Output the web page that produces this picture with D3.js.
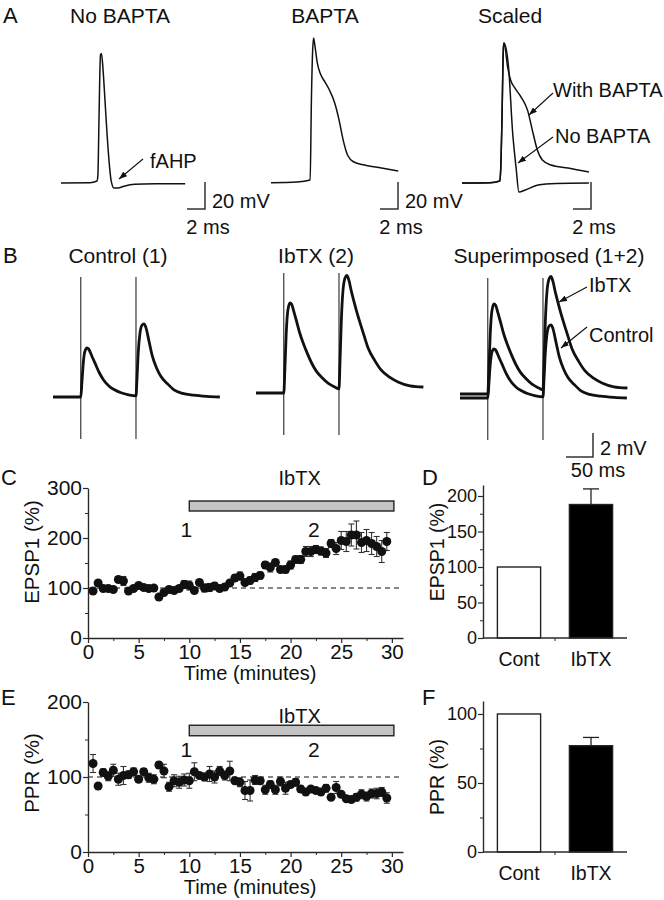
<!DOCTYPE html>
<html><head><meta charset="utf-8">
<script src="https://cdn.jsdelivr.net/npm/d3@7"></script>
<style>
body{margin:0;background:#fff}
svg{display:block}
text{font-family:"Liberation Sans",Arial,Helvetica,sans-serif;fill:#111}
</style>
</head><body>
<svg id="fig" width="664" height="900"></svg>
<script>
// ================= DATA =================
const panelLetters = ["A","B","C","D","E","F"];
const aTitles = ["No BAPTA","BAPTA","Scaled"];
const bTitles = ["Control (1)","IbTX (2)","Superimposed (1+2)"];

// Panel A action potentials: [time (ms), membrane potential relative to rest (mV)]
const apNoBapta = [[0,0],[3.2,0.2],[4.0,1.5],[4.1,6],[4.22,47],[4.39,95],[4.5,96],[4.67,84],[4.89,61],[5.11,37],[5.33,17],[5.56,2.2],[5.89,-3.7],[6.33,-3.7],[7.0,-2.4],[8.2,-1.0],[10.5,-0.6],[13.8,-0.5]];
const apBapta = [[0,-0.5],[2.9,0],[4.35,1.5],[4.49,61],[4.63,98],[4.73,106.7],[4.9,100],[5.15,88],[5.5,80],[6.0,74],[6.5,68],[7.08,58.5],[7.56,46],[8.02,31],[8.5,20],[9.2,14.8],[10.38,12.6],[12.27,10.4],[14.14,8.1]];
const apScaledNo = [[0,0],[3.1,0.2],[4.2,1.5],[4.3,10],[4.44,46.7],[4.6,100],[4.67,103.7],[5.17,85.9],[5.63,37],[6.0,11.9],[6.33,-6.7],[7.04,-5.2],[8.44,-1.5],[10.5,-0.4],[14.1,0]];
const apScaledWith = [[0,0],[3.1,0.2],[4.2,1.5],[4.3,10],[4.44,46.7],[4.6,100],[4.67,103.7],[5.07,85.9],[5.4,76.3],[5.87,70.4],[6.56,63.7],[7.28,54],[7.89,37],[8.37,24.4],[8.93,17],[9.89,13.3],[11.78,11.1],[14.1,8.1]];

// Panel B EPSPs: [time (ms), mV above baseline]
const epspControl = [[0,0],[51.5,0],[53.5,1.2],[56,2.8],[59,3.8],[63,4.1],[66,4.0],[72,3.4],[78,2.8],[86,2.0],[94,1.4],[104,0.9],[114,0.6],[126,0.35],[140,0.18],[153.7,0.1],[155.5,1.5],[158,3.8],[161,5.3],[165,6.0],[168.5,6.1],[172,5.8],[178,4.6],[184,3.4],[192,2.4],[200,1.7],[212,1.1],[224,0.6],[240,0.3],[260,0.15],[285,0.05],[309,0]];
const epspIbtx = [[0,0],[51.5,0],[53.5,2],[56,5],[59,6.9],[63,7.5],[66,7.4],[70,6.8],[75,6.0],[81,5.0],[87,4.2],[95,3.3],[103,2.5],[112,1.8],[122,1.3],[134,0.8],[146,0.5],[153.7,0.35],[155.5,2.5],[158,6.0],[161,8.5],[165,9.6],[168.5,9.8],[172,9.4],[177,8.4],[181,7.7],[187,6.7],[193,5.8],[200,4.8],[208,3.7],[220,2.7],[232,1.9],[248,1.3],[264,0.9],[285,0.6],[310,0.5]];
const stimTimes = [51.5, 153.7];
const artifactRange = [-3.5, 10];

// Panels C & E time course (minutes)
const timeMin = [0.5,1,1.5,2,2.5,3,3.5,4,4.5,5,5.5,6,6.5,7,7.5,8,8.5,9,9.5,10,10.5,11,11.5,12,12.5,13,13.5,14,14.5,15,15.5,16,16.5,17,17.5,18,18.5,19,19.5,20,20.5,21,21.5,22,22.5,23,23.5,24,24.5,25,25.5,26,26.5,27,27.5,28,28.5,29,29.5];
const epsp1Pct = [94,110,99,99,97,117,114,94,99,105,101,99,100,82,91,97,95,99,107,105,95,111,100,101,104,99,102,110,120,124,111,115,121,125,146,141,151,137,137,146,157,157,173,173,177,174,170,189,179,195,193,206,206,191,195,189,183,173,193];
const epsp1Err = [3,4,4,6,4,6,9,3,4,4,5,5,4,4,6,5,6,5,8,9,5,4,8,8,7,6,5,5,6,8,6,7,8,7,7,9,6,6,7,8,7,8,10,10,8,8,9,8,12,18,20,22,28,20,22,22,20,22,18];
const pprPct = [118,88,106,101,109,97,102,103,107,97,107,99,97,116,108,87,95,93,96,95,107,102,100,104,100,108,102,108,95,93,82,82,96,95,83,90,83,94,85,90,93,84,80,84,82,80,85,73,86,77,71,70,73,77,74,78,78,80,72];
const pprErr = [12,3,5,6,8,8,12,5,5,4,4,6,6,4,9,6,8,8,8,10,12,4,5,10,8,6,6,13,4,6,12,14,6,4,6,5,6,6,8,4,5,4,3,3,3,3,5,3,8,3,3,4,5,6,6,6,7,6,7];
const drugLabel = "IbTX";
const drugPeriod = [10, 30.2];
const epochMarks = [{label:"1", t:9.7},{label:"2", t:22.3}];
const xTicks = [0,5,10,15,20,25,30];
const xMinor = [2.5,7.5,12.5,17.5,22.5,27.5];
const cTicks = [0,100,200,300], cMinor = [50,150,250];
const eTicks = [0,100,200], eMinor = [50,150];

// Panels D & F summary
const groups = ["Cont","IbTX"];
const epsp1Mean = [100, 188];
const epsp1Sem = [0, 22];
const pprMean = [100, 77];
const pprSem = [0, 6];
const dTicks = [0,50,100,150,200], dMinor = [25,75,125,175];
const fTicks = [0,50,100], fMinor = [25,75];

// ================= DRAW =================
const svg = d3.select("#fig");
const INK = "#111", AX = "#2a2a2a";
const FONT = '"Liberation Sans",Arial,sans-serif';
const defs = svg.append("defs");
defs.append("marker").attr("id","arr").attr("viewBox","0 0 8 6")
  .attr("refX",8).attr("refY",3).attr("markerWidth",8).attr("markerHeight",6)
  .attr("markerUnits","userSpaceOnUse").attr("orient","auto")
  .append("path").attr("d","M0,0L8,3L0,6z").attr("fill",INK);

function txt(x,y,s,size,anchor){
  return svg.append("text").attr("x",x).attr("y",y).attr("font-size",size)
    .attr("text-anchor",anchor||"start").text(s);
}
function arrow(x1,y1,x2,y2){
  svg.append("line").attr("x1",x1).attr("y1",y1).attr("x2",x2).attr("y2",y2)
    .attr("stroke",INK).attr("stroke-width",1.1).attr("marker-end","url(#arr)");
}

// Panel letters
const letterPos = [[3,23],[3,263],[1,485],[422,485],[1,705],[422,705]];
panelLetters.forEach((l,i)=>txt(letterPos[i][0],letterPos[i][1],l,22));

// ---------- Panel A ----------
const aPxPerMs = 9, aPxPerMv = 1.35;
const aLayout = [{x0:61,y0:183,cx:120},{x0:271,y0:182,cx:325},{x0:462,y0:183,cx:510}];
aTitles.forEach((t,i)=>txt(aLayout[i].cx,23,t,21,"middle"));
function aScales(i){
  const L=aLayout[i];
  return {x:d3.scaleLinear().domain([0,1]).range([L.x0,L.x0+aPxPerMs]),
          y:d3.scaleLinear().domain([0,1]).range([L.y0,L.y0-aPxPerMv])};
}
function drawTrace(data,sc,w){
  const line=d3.line().x(d=>sc.x(d[0])).y(d=>sc.y(d[1])).curve(d3.curveMonotoneX);
  svg.append("path").attr("d",line(data)).attr("fill","none").attr("stroke",INK)
    .attr("stroke-width",w).attr("stroke-linejoin","round");
}
drawTrace(apNoBapta,aScales(0),1.5);
drawTrace(apBapta,aScales(1),1.5);
drawTrace(apScaledNo,aScales(2),1.5);
drawTrace(apScaledWith,aScales(2),1.5);

// A scale bars (20 mV, 2 ms)
[205,398,591].forEach((bx,i)=>{
  const by=209, h=20*aPxPerMv, w=2*aPxPerMs;
  svg.append("path").attr("d",`M${bx-w},${by}H${bx}V${by-h}`).attr("fill","none")
    .attr("stroke","#333").attr("stroke-width",1.5);
  if(i<2) txt(bx+7,208,"20 mV",20);
  txt(bx+3,234,"2 ms",20,"middle");
});
txt(150,168,"fAHP",20); arrow(143,159,119,179);
txt(553,97,"With BAPTA",20); arrow(553,93,529,115);
txt(555,143,"No BAPTA",20); arrow(553,137,518,163);

// ---------- Panel B ----------
const bPxPerMs = 0.54, bPxPerMv = 12;
const bTitleX = [118,316,549];
bTitles.forEach((t,i)=>txt(bTitleX[i],263,t,21,"middle"));
function bScales(x0,y0){
  return {x:d3.scaleLinear().domain([0,1]).range([x0,x0+bPxPerMs]),
          y:d3.scaleLinear().domain([0,1]).range([y0,y0-bPxPerMv])};
}
function artifacts(sc){
  stimTimes.forEach(t=>{
    svg.append("line").attr("x1",sc.x(t)).attr("x2",sc.x(t))
      .attr("y1",sc.y(artifactRange[0])).attr("y2",sc.y(artifactRange[1]))
      .attr("stroke",INK).attr("stroke-width",1);
  });
}
const sC=bScales(53,397), sI=bScales(256,393), sSC=bScales(460,398), sSI=bScales(460,394);
drawTrace(epspControl,sC,2.8); artifacts(sC);
drawTrace(epspIbtx,sI,2.8); artifacts(sI);
drawTrace(epspControl,sSC,2.8); drawTrace(epspIbtx,sSI,2.8); artifacts(sSC);
txt(589,292,"IbTX",20); arrow(587,287,559,302);
txt(589,342,"Control",20); arrow(587,327,561,348);
{ const bx=593, by=457, h=2*bPxPerMv, w=50*bPxPerMs;
  svg.append("path").attr("d",`M${bx-w},${by}H${bx}V${by-h}`).attr("fill","none")
    .attr("stroke","#333").attr("stroke-width",1.5);
  txt(600,455,"2 mV",20); txt(598,477,"50 ms",20,"middle"); }

// ---------- Panels C & E ----------
function styleAxis(g,fs){
  g.select(".domain").attr("stroke",AX).attr("stroke-width",1.4);
  g.selectAll(".tick line").attr("stroke",AX).attr("stroke-width",1.2);
  g.selectAll("text").attr("font-size",fs).attr("fill",INK).attr("font-family",FONT);
}
function timePlot(opt){
  const x=d3.scaleLinear().domain([0,31.1]).range([88,403]);
  const y=d3.scaleLinear().domain(opt.yDomain).range(opt.yRange);
  svg.append("line").attr("x1",x(0)).attr("x2",x(31.1)).attr("y1",y(100)).attr("y2",y(100))
    .attr("stroke",INK).attr("stroke-width",1.2).attr("stroke-dasharray","5,4");
  const gx=svg.append("g").attr("transform",`translate(0,${opt.yRange[0]})`)
    .call(d3.axisBottom(x).tickValues(xTicks).tickSize(5).tickSizeOuter(0).tickPadding(1));
  styleAxis(gx,20.5);
  const gxm=svg.append("g").attr("transform",`translate(0,${opt.yRange[0]})`)
    .call(d3.axisBottom(x).tickValues(xMinor).tickSize(3).tickFormat(""));
  gxm.select(".domain").remove(); gxm.selectAll("line").attr("stroke",AX);
  const gy=svg.append("g").attr("transform",`translate(${x(0)},0)`)
    .call(d3.axisLeft(y).tickValues(opt.ticks).tickSize(5).tickSizeOuter(0).tickPadding(1));
  styleAxis(gy,21);
  const gym=svg.append("g").attr("transform",`translate(${x(0)},0)`)
    .call(d3.axisLeft(y).tickValues(opt.minor).tickSize(3).tickFormat(""));
  gym.select(".domain").remove(); gym.selectAll("line").attr("stroke",AX);
  svg.append("rect").attr("x",x(drugPeriod[0])).attr("width",x(drugPeriod[1])-x(drugPeriod[0]))
    .attr("y",y(opt.barRange[1])).attr("height",y(opt.barRange[0])-y(opt.barRange[1]))
    .attr("fill","#c4c4c4").attr("stroke","#222").attr("stroke-width",1.4);
  txt(x(20.9),y(opt.labelY),drugLabel,20,"middle");
  epochMarks.forEach(m=>txt(x(m.t),y(opt.markY),m.label,21,"middle"));
  const g=svg.append("g");
  timeMin.forEach((t,i)=>{
    const v=opt.vals[i], e=opt.errs[i], cx=x(t);
    g.append("line").attr("x1",cx).attr("x2",cx).attr("y1",y(v-e)).attr("y2",y(v+e))
      .attr("stroke","#333").attr("stroke-width",1.1);
    [v-e,v+e].forEach(b=>g.append("line").attr("x1",cx-3).attr("x2",cx+3).attr("y1",y(b)).attr("y2",y(b))
      .attr("stroke","#333").attr("stroke-width",1.1));
  });
  g.selectAll("circle").data(timeMin).join("circle")
    .attr("cx",d=>x(d)).attr("cy",(d,i)=>y(opt.vals[i])).attr("r",4.5).attr("fill",INK);
  svg.append("text").attr("transform",`translate(39,${opt.ylabY}) rotate(-90)`)
    .attr("text-anchor","middle").attr("font-size",20.5).text(opt.ylabel);
  txt(250,opt.yRange[0]+42,"Time (minutes)",20,"middle");
}
timePlot({yDomain:[0,300],yRange:[638,488],ticks:cTicks,minor:cMinor,vals:epsp1Pct,errs:epsp1Err,
  barRange:[254,274],labelY:306,markY:202,ylabel:"EPSP1 (%)",ylabY:552});
timePlot({yDomain:[0,200],yRange:[852,702],ticks:eTicks,minor:eMinor,vals:pprPct,errs:pprErr,
  barRange:[155,169],labelY:172,markY:127,ylabel:"PPR (%)",ylabY:773});

// ---------- Panels D & F ----------
function barPlot(opt){
  const x=d3.scaleBand().domain(groups).range([483,627]).paddingInner(0.4).paddingOuter(0.2);
  const y=d3.scaleLinear().domain([0,opt.top]).range([opt.y0,opt.yTop]);
  const gy=svg.append("g").attr("transform","translate(483,0)")
    .call(d3.axisLeft(y).tickValues(opt.ticks).tickSize(5).tickSizeOuter(0).tickPadding(1));
  styleAxis(gy,18);
  const gym=svg.append("g").attr("transform","translate(483,0)")
    .call(d3.axisLeft(y).tickValues(opt.minor).tickSize(3).tickFormat(""));
  gym.select(".domain").remove(); gym.selectAll("line").attr("stroke",AX);
  groups.forEach((gname,i)=>{
    if(opt.sem[i]>0){
      const cx=x(gname)+x.bandwidth()/2, top=y(opt.mean[i]+opt.sem[i]);
      svg.append("line").attr("x1",cx).attr("x2",cx).attr("y1",y(opt.mean[i])).attr("y2",top)
        .attr("stroke","#222").attr("stroke-width",1.3);
      svg.append("line").attr("x1",cx-8).attr("x2",cx+8).attr("y1",top).attr("y2",top)
        .attr("stroke","#222").attr("stroke-width",1.3);
    }
  });
  svg.selectAll(null).data(groups).join("rect")
    .attr("x",d=>x(d)).attr("width",x.bandwidth())
    .attr("y",(d,i)=>y(opt.mean[i])).attr("height",(d,i)=>opt.y0-y(opt.mean[i]))
    .attr("fill",(d,i)=>i===0?"#fff":"#000").attr("stroke","#222").attr("stroke-width",1.4);
  svg.append("line").attr("x1",483).attr("x2",627).attr("y1",opt.y0).attr("y2",opt.y0)
    .attr("stroke",AX).attr("stroke-width",1.4);
  const mid=(x(groups[0])+x.bandwidth()+x(groups[1]))/2;
  svg.append("line").attr("x1",mid).attr("x2",mid).attr("y1",opt.y0).attr("y2",opt.y0+3).attr("stroke",AX);
  groups.forEach(gname=>txt(x(gname)+x.bandwidth()/2,opt.y0+28,gname,19.5,"middle"));
  svg.append("text").attr("transform",`translate(444,${opt.ylabY}) rotate(-90)`)
    .attr("text-anchor","middle").attr("font-size",19.5).text(opt.ylabel);
}
barPlot({top:215.5,y0:638,yTop:485,ticks:dTicks,minor:dMinor,mean:epsp1Mean,sem:epsp1Sem,ylabel:"EPSP1 (%)",ylabY:552});
barPlot({top:109.4,y0:852,yTop:701,ticks:fTicks,minor:fMinor,mean:pprMean,sem:pprSem,ylabel:"PPR (%)",ylabY:777});
</script>
</body></html>
